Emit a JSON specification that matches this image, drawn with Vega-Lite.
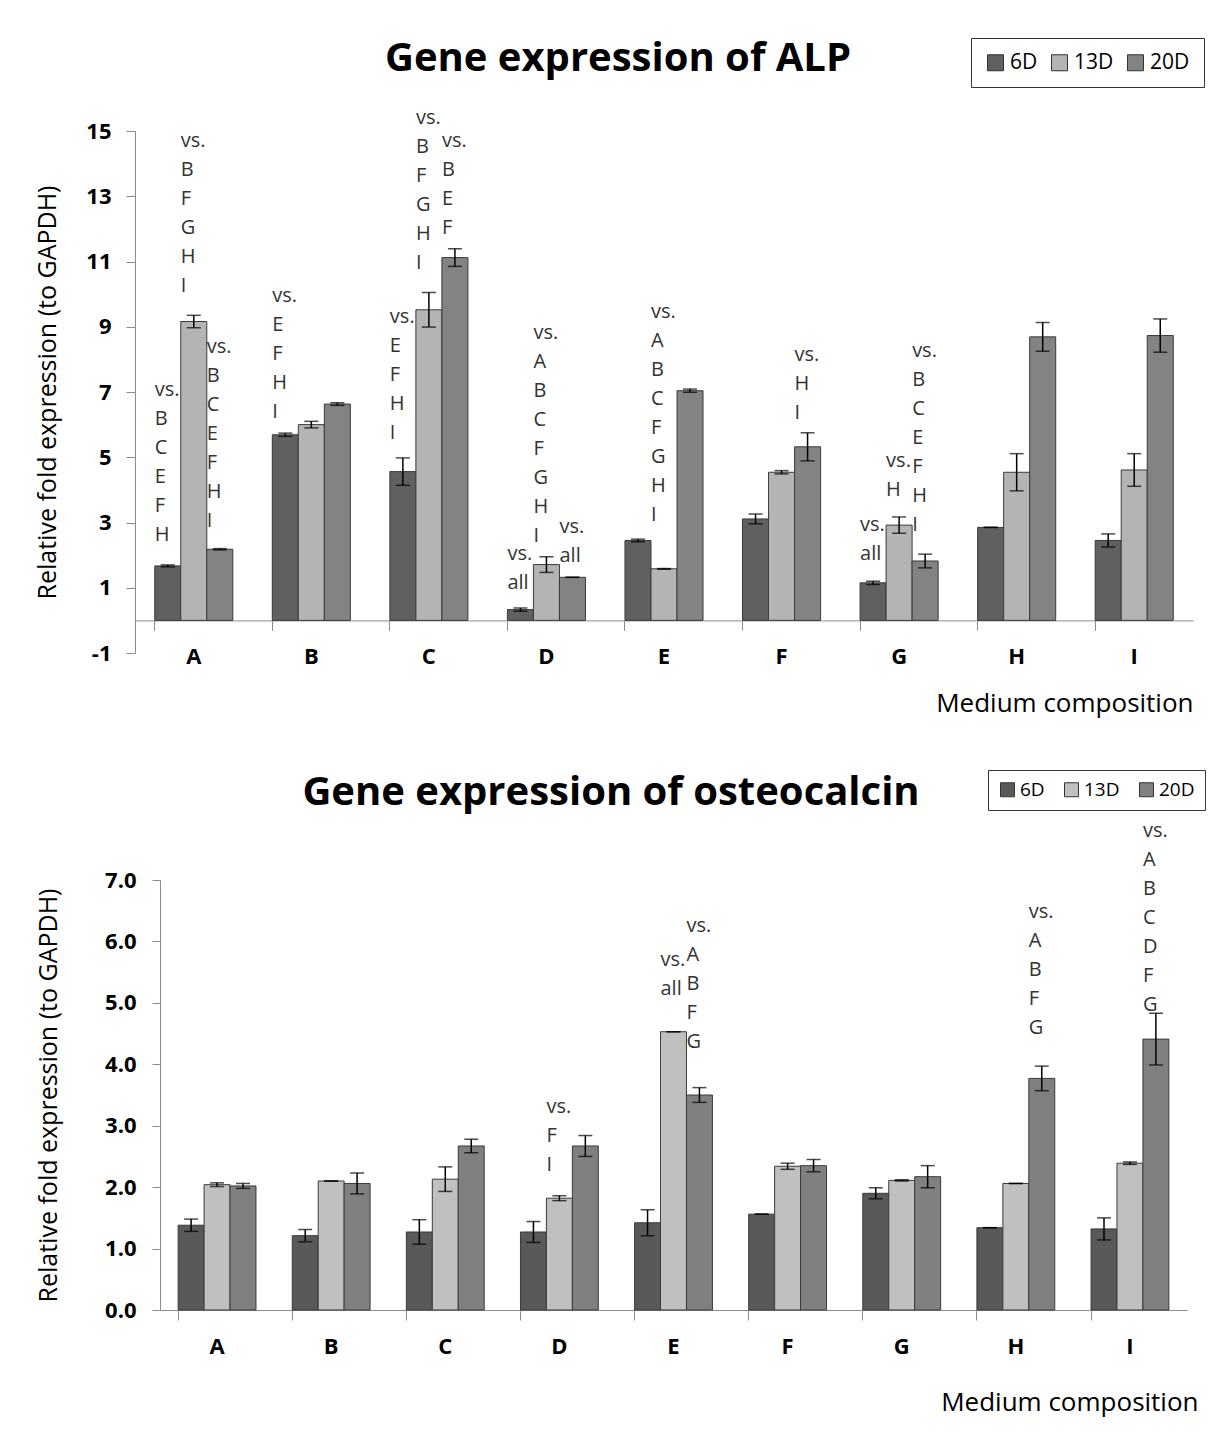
{
  "$schema": "https://vega.github.io/schema/vega-lite/v6.json",
  "padding": {"left": 35, "top": 37, "right": 5, "bottom": 5},
  "background": "white",
  "config": {
    "view": {"stroke": null},
    "font": "Open Sans",
    "axis": {"labelFont": "Open Sans", "titleFont": "Open Sans", "labelColor": "black", "titleColor": "black", "domainColor": "#8c8c8c", "tickColor": "#8c8c8c", "grid": false, "titleFontWeight": "normal", "labelFontWeight": "bold"}
  },
  "datasets": {
    "alp": [
      {"medium": "A", "day": "6D", "value": 1.67, "err": 0.03},
      {"medium": "A", "day": "13D", "value": 9.16, "err": 0.19},
      {"medium": "A", "day": "20D", "value": 2.18, "err": 0.02},
      {"medium": "B", "day": "6D", "value": 5.69, "err": 0.05},
      {"medium": "B", "day": "13D", "value": 6.0, "err": 0.1},
      {"medium": "B", "day": "20D", "value": 6.63, "err": 0.04},
      {"medium": "C", "day": "6D", "value": 4.56, "err": 0.42},
      {"medium": "C", "day": "13D", "value": 9.52, "err": 0.53},
      {"medium": "C", "day": "20D", "value": 11.12, "err": 0.27},
      {"medium": "D", "day": "6D", "value": 0.33, "err": 0.05},
      {"medium": "D", "day": "13D", "value": 1.71, "err": 0.24},
      {"medium": "D", "day": "20D", "value": 1.32, "err": 0},
      {"medium": "E", "day": "6D", "value": 2.45, "err": 0.04},
      {"medium": "E", "day": "13D", "value": 1.58, "err": 0.01},
      {"medium": "E", "day": "20D", "value": 7.04, "err": 0.05},
      {"medium": "F", "day": "6D", "value": 3.11, "err": 0.15},
      {"medium": "F", "day": "13D", "value": 4.54, "err": 0.05},
      {"medium": "F", "day": "20D", "value": 5.32, "err": 0.43},
      {"medium": "G", "day": "6D", "value": 1.15, "err": 0.05},
      {"medium": "G", "day": "13D", "value": 2.92, "err": 0.25},
      {"medium": "G", "day": "20D", "value": 1.82, "err": 0.21},
      {"medium": "H", "day": "6D", "value": 2.85, "err": 0},
      {"medium": "H", "day": "13D", "value": 4.54, "err": 0.57},
      {"medium": "H", "day": "20D", "value": 8.69, "err": 0.44},
      {"medium": "I", "day": "6D", "value": 2.45, "err": 0.2},
      {"medium": "I", "day": "13D", "value": 4.61, "err": 0.5},
      {"medium": "I", "day": "20D", "value": 8.73, "err": 0.51}
    ],
    "alp_ann": [
      {"medium": "A", "day": "6D", "ty": 6.77, "lines": ["vs.", "B", "C", "E", "F", "H"]},
      {"medium": "A", "day": "13D", "ty": 14.39, "lines": ["vs.", "B", "F", "G", "H", "I"]},
      {"medium": "A", "day": "20D", "ty": 8.07, "lines": ["vs.", "B", "C", "E", "F", "H", "I"]},
      {"medium": "B", "day": "6D", "ty": 9.64, "lines": ["vs.", "E", "F", "H", "I"]},
      {"medium": "C", "day": "6D", "ty": 9.0, "lines": ["vs.", "E", "F", "H", "I"]},
      {"medium": "C", "day": "13D", "ty": 15.1, "lines": ["vs.", "B", "F", "G", "H", "I"]},
      {"medium": "C", "day": "20D", "ty": 14.38, "lines": ["vs.", "B", "E", "F"]},
      {"medium": "D", "day": "6D", "ty": 1.73, "lines": ["vs.", "all"]},
      {"medium": "D", "day": "13D", "ty": 8.49, "lines": ["vs.", "A", "B", "C", "F", "G", "H", "I"]},
      {"medium": "D", "day": "20D", "ty": 2.55, "lines": ["vs.", "all"]},
      {"medium": "E", "day": "13D", "ty": 9.14, "lines": ["vs.", "A", "B", "C", "F", "G", "H", "I"]},
      {"medium": "F", "day": "20D", "ty": 7.83, "lines": ["vs.", "H", "I"]},
      {"medium": "G", "day": "6D", "ty": 2.61, "lines": ["vs.", "all"]},
      {"medium": "G", "day": "13D", "ty": 4.59, "lines": ["vs.", "H"]},
      {"medium": "G", "day": "20D", "ty": 7.96, "lines": ["vs.", "B", "C", "E", "F", "H", "I"]}
    ],
    "ost": [
      {"medium": "A", "day": "6D", "value": 1.38, "err": 0.1},
      {"medium": "A", "day": "13D", "value": 2.04, "err": 0.03},
      {"medium": "A", "day": "20D", "value": 2.02, "err": 0.04},
      {"medium": "B", "day": "6D", "value": 1.21, "err": 0.1},
      {"medium": "B", "day": "13D", "value": 2.1, "err": 0},
      {"medium": "B", "day": "20D", "value": 2.06, "err": 0.17},
      {"medium": "C", "day": "6D", "value": 1.27, "err": 0.2},
      {"medium": "C", "day": "13D", "value": 2.13, "err": 0.2},
      {"medium": "C", "day": "20D", "value": 2.67, "err": 0.11},
      {"medium": "D", "day": "6D", "value": 1.27, "err": 0.17},
      {"medium": "D", "day": "13D", "value": 1.82, "err": 0.04},
      {"medium": "D", "day": "20D", "value": 2.67, "err": 0.17},
      {"medium": "E", "day": "6D", "value": 1.42, "err": 0.21},
      {"medium": "E", "day": "13D", "value": 4.53, "err": 0},
      {"medium": "E", "day": "20D", "value": 3.5, "err": 0.12},
      {"medium": "F", "day": "6D", "value": 1.56, "err": 0},
      {"medium": "F", "day": "13D", "value": 2.34, "err": 0.05},
      {"medium": "F", "day": "20D", "value": 2.35, "err": 0.1},
      {"medium": "G", "day": "6D", "value": 1.9, "err": 0.09},
      {"medium": "G", "day": "13D", "value": 2.11, "err": 0.01},
      {"medium": "G", "day": "20D", "value": 2.17, "err": 0.18},
      {"medium": "H", "day": "6D", "value": 1.34, "err": 0},
      {"medium": "H", "day": "13D", "value": 2.06, "err": 0},
      {"medium": "H", "day": "20D", "value": 3.77, "err": 0.2},
      {"medium": "I", "day": "6D", "value": 1.32, "err": 0.18},
      {"medium": "I", "day": "13D", "value": 2.39, "err": 0.02},
      {"medium": "I", "day": "20D", "value": 4.41, "err": 0.42}
    ],
    "ost_ann": [
      {"medium": "D", "day": "13D", "ty": 3.14, "lines": ["vs.", "F", "I"]},
      {"medium": "E", "day": "13D", "ty": 5.54, "lines": ["vs.", "all"]},
      {"medium": "E", "day": "20D", "ty": 6.09, "lines": ["vs.", "A", "B", "F", "G"]},
      {"medium": "H", "day": "20D", "ty": 6.32, "lines": ["vs.", "A", "B", "F", "G"]},
      {"medium": "I", "day": "20D", "ty": 7.64, "lines": ["vs.", "A", "B", "C", "D", "F", "G"]}
    ]
  },
  "vconcat": [
    {
      "width": 1058,
      "height": 522,
      "title": {"text": "Gene expression of ALP", "font": "Open Sans", "fontSize": 40, "fontWeight": "bold", "color": "black", "anchor": "middle", "dx": -46, "offset": -41},
      "encoding": {
        "x": {"field": "medium", "type": "nominal", "sort": ["A", "B", "C", "D", "E", "F", "G", "H", "I"], "scale": {"paddingInner": 0.336, "paddingOuter": 0.168},
          "axis": {"offset": -32.6, "labelAngle": 0, "labelFontSize": 22, "labelPadding": 16, "tickSize": 10, "bandPosition": 0, "title": "Medium composition", "titleAnchor": "end", "titleFontSize": 26, "titlePadding": 23}},
        "xOffset": {"field": "day", "type": "nominal", "scale": {"domain": ["6D", "13D", "20D"]}}
      },
      "layer": [
        {
          "data": {"name": "alp"},
          "mark": {"type": "bar", "stroke": "#3a3a3a", "strokeWidth": 1},
          "encoding": {
            "y": {"field": "value", "type": "quantitative", "title": "Relative fold expression (to GAPDH)", "scale": {"domain": [-1, 15], "nice": false, "zero": false},
              "axis": {"values": [-1, 1, 3, 5, 7, 9, 11, 13, 15], "labelExpr": "'' + datum.value", "labelFontSize": 22, "tickSize": 9, "labelPadding": 15, "titleFontSize": 25, "titlePadding": 25}},
            "color": {"field": "day", "type": "nominal", "scale": {"domain": ["6D", "13D", "20D"], "range": ["#606060", "#b4b4b4", "#838383"]},
              "legend": {"title": null, "orient": "none", "legendX": 836, "legendY": -93, "direction": "horizontal", "symbolType": "square", "symbolSize": 256, "symbolStrokeColor": "#333333", "symbolStrokeWidth": 1, "symbolOpacity": 1, "labelFont": "Open Sans", "labelFontSize": 21, "labelColor": "black", "labelOffset": 4, "columnPadding": 11, "strokeColor": "#333333", "fillColor": "white", "padding": 14}}
          }
        },
        {
          "data": {"name": "alp"},
          "mark": {"type": "errorbar", "ticks": {"size": 14, "thickness": 1.5, "color": "black"}, "rule": {"strokeWidth": 1.5, "color": "black"}},
          "encoding": {
            "y": {"field": "value", "type": "quantitative", "title": "Relative fold expression (to GAPDH)"},
            "yError": {"field": "err"}
          }
        },
        {
          "data": {"name": "alp_ann"},
          "mark": {"type": "text", "align": "left", "baseline": "bottom", "dx": -13, "fontSize": 20, "lineHeight": 29, "color": "#333333", "font": "Open Sans"},
          "encoding": {
            "y": {"field": "ty", "type": "quantitative", "title": "Relative fold expression (to GAPDH)"},
            "text": {"field": "lines"}
          }
        }
      ]
    },
    {
      "width": 1052,
      "height": 430,
      "title": {"text": "Gene expression of osteocalcin", "font": "Open Sans", "fontSize": 40, "fontWeight": "bold", "color": "black", "anchor": "middle", "dx": -50, "offset": -43},
      "encoding": {
        "x": {"field": "medium", "type": "nominal", "sort": ["A", "B", "C", "D", "E", "F", "G", "H", "I"], "scale": {"range": [25, 1052], "paddingInner": 0.318, "paddingOuter": 0.159},
          "axis": {"labelAngle": 0, "labelFontSize": 22, "labelPadding": 16, "tickSize": 10, "bandPosition": 0, "title": "Medium composition", "titleAnchor": "end", "titleX": 1063, "titleAlign": "right", "titleFontSize": 26, "titlePadding": 32}},
        "xOffset": {"field": "day", "type": "nominal", "scale": {"domain": ["6D", "13D", "20D"]}}
      },
      "layer": [
        {
          "data": {"name": "ost"},
          "mark": {"type": "bar", "stroke": "#3a3a3a", "strokeWidth": 1},
          "encoding": {
            "y": {"field": "value", "type": "quantitative", "title": "Relative fold expression (to GAPDH)", "scale": {"domain": [0, 7], "nice": false},
              "axis": {"offset": -25, "values": [0, 1, 2, 3, 4, 5, 6, 7], "format": ".1f", "labelFontSize": 22, "tickSize": 8, "labelPadding": 16, "titleFontSize": 25, "titlePadding": 43}},
            "color": {"field": "day", "type": "nominal", "scale": {"domain": ["6D", "13D", "20D"], "range": ["#595959", "#c0c0c0", "#808080"]},
              "legend": {"title": null, "orient": "none", "legendX": 853, "legendY": -110, "direction": "horizontal", "symbolType": "square", "symbolSize": 196, "symbolStrokeColor": "#333333", "symbolStrokeWidth": 1, "symbolOpacity": 1, "labelFont": "Open Sans", "labelFontSize": 19, "labelColor": "black", "labelOffset": 3, "columnPadding": 17, "strokeColor": "#333333", "fillColor": "white", "padding": 10}}
          }
        },
        {
          "data": {"name": "ost"},
          "mark": {"type": "errorbar", "ticks": {"size": 14, "thickness": 1.5, "color": "black"}, "rule": {"strokeWidth": 1.5, "color": "black"}},
          "encoding": {
            "y": {"field": "value", "type": "quantitative", "title": "Relative fold expression (to GAPDH)"},
            "yError": {"field": "err"}
          }
        },
        {
          "data": {"name": "ost_ann"},
          "mark": {"type": "text", "align": "left", "baseline": "bottom", "dx": -13, "fontSize": 20, "lineHeight": 29, "color": "#333333", "font": "Open Sans"},
          "encoding": {
            "y": {"field": "ty", "type": "quantitative", "title": "Relative fold expression (to GAPDH)"},
            "text": {"field": "lines"}
          }
        }
      ]
    }
  ],
  "spacing": 52,
  "resolve": {"scale": {"color": "independent", "x": "independent", "y": "independent", "xOffset": "independent"}, "legend": {"color": "independent"}}
}
